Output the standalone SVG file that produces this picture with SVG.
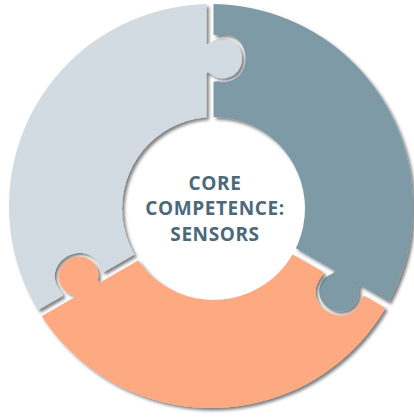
<svg xmlns="http://www.w3.org/2000/svg" width="414" height="417" viewBox="0 0 414 417">
  <style>
    .label { font-family: "Open Sans", "Noto Sans", "DejaVu Sans", sans-serif; font-weight: 700; font-size: 19px; fill: #4b6978; text-anchor: middle; letter-spacing: 0.6px; }
  </style>
  <defs>
    <filter id="shadow" x="-10%" y="-10%" width="125%" height="125%">
      <feDropShadow dx="2.5" dy="2.5" stdDeviation="1.8" flood-color="#000" flood-opacity="0.5"/>
    </filter>
    <path id="ring" fill-rule="evenodd" d="M 9,206 A 202,202 0 1,0 413,206 A 202,202 0 1,0 9,206 Z M 122,208.5 A 91.5,91.5 0 1,0 305,208.5 A 91.5,91.5 0 1,0 122,208.5 Z"/>
    <rect id="hpBefore" x="-600" y="-600" width="1200" height="600"/>
    <rect id="hpAfter" x="-600" y="-7" width="1200" height="607"/>
    <path id="tab" d="M 136,-8 L 136,-7 C 137.5,-3 130.5,-1 130.5,9 C 130.5,21 140,28.5 150.5,28.5 C 161,28.5 170.5,21 170.5,9 C 170.5,-1 163.5,-3 165,-7 L 165,-8 Z"/>
    <path id="notch" d="M 127,-1 L 127,0 C 128.5,3.5 127,5 127,10 C 127,23.5 137.5,32 150.5,32 C 163.5,32 174,23.5 174,10 C 174,5 172.5,3.5 174,0 L 174,-1 Z"/>
    <mask id="m-light" maskUnits="userSpaceOnUse" x="0" y="0" width="414" height="417">
      <rect x="0" y="0" width="414" height="417" fill="#fff"/>
      <use href="#hpBefore" fill="#000" transform="translate(213.5 208.8) rotate(150)"/>
      <use href="#hpAfter" fill="#000" transform="translate(213.5 208.8) rotate(-90)"/>
      <use href="#tab" fill="#fff" transform="translate(213.5 208.8) rotate(-90)"/>
      <use href="#notch" fill="#000" transform="translate(213.5 208.8) rotate(150)"/>
    </mask>
    <mask id="m-dark" maskUnits="userSpaceOnUse" x="0" y="0" width="414" height="417">
      <rect x="0" y="0" width="414" height="417" fill="#fff"/>
      <use href="#hpBefore" fill="#000" transform="translate(213.5 208.8) rotate(-90)"/>
      <use href="#hpAfter" fill="#000" transform="translate(213.5 208.8) rotate(30)"/>
      <use href="#tab" fill="#fff" transform="translate(213.5 208.8) rotate(30)"/>
      <use href="#notch" fill="#000" transform="translate(213.5 208.8) rotate(-90)"/>
    </mask>
    <mask id="m-orange" maskUnits="userSpaceOnUse" x="0" y="0" width="414" height="417">
      <rect x="0" y="0" width="414" height="417" fill="#fff"/>
      <use href="#hpBefore" fill="#000" transform="translate(213.5 208.8) rotate(30)"/>
      <use href="#hpAfter" fill="#000" transform="translate(213.5 208.8) rotate(150)"/>
      <use href="#tab" fill="#fff" transform="translate(213.5 208.8) rotate(150)"/>
      <use href="#notch" fill="#000" transform="translate(213.5 208.8) rotate(30)"/>
    </mask>
  </defs>
  <rect x="0" y="0" width="414" height="417" fill="#fff"/>
  <g id="piece-light" filter="url(#shadow)">
    <use href="#ring" fill="#d3dbe2" mask="url(#m-light)"/>
  </g>
  <g id="piece-dark" filter="url(#shadow)">
    <use href="#ring" fill="#7f9aa7" mask="url(#m-dark)"/>
  </g>
  <g id="piece-orange" filter="url(#shadow)">
    <use href="#ring" fill="#fda981" mask="url(#m-orange)"/>
  </g>
  <g id="connectors"/>
  <g id="center-label">
    <text class="label" x="215" y="189.5">CORE</text>
    <text class="label" x="215" y="215">COMPETENCE:</text>
    <text class="label" x="215" y="240.5">SENSORS</text>
  </g>
</svg>
